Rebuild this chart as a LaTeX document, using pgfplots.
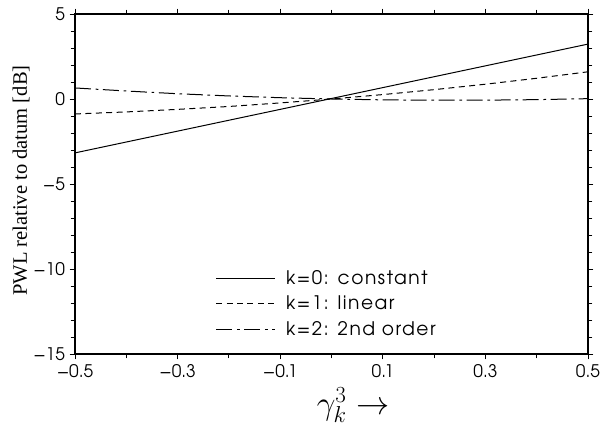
\documentclass[border=0pt]{standalone}
\usepackage{pgfplots}
\pgfplotsset{compat=1.18}
\usepackage{fontspec}
\newfontfamily\tickfont{TeX Gyre Adventor}
\newfontfamily\legfont{TeX Gyre Adventor}[LetterSpace=8]
\newfontfamily\seriffont{Liberation Serif}
\pgfplotsset{mylegend/.style={legend image code/.code={\draw[##1] (0pt,0pt) -- (44pt,0pt);}}}
\begin{document}
\begin{tikzpicture}
\begin{axis}[
  scale only axis, width=384.75pt, height=255pt,
  xmin=-0.5, xmax=0.5, ymin=-15, ymax=5,
  axis line style={line width=0.9pt},
  tick style={line width=0.7pt, black},
  tick align=outside,
  xtick pos=both, ytick pos=both,
  xtick={-0.5,-0.3,-0.1,0.1,0.3,0.5},
  xticklabels={−0.5,−0.3,−0.1,0.1,0.3,0.5},
  minor xtick={-0.4,-0.2,0,0.2,0.4},
  ytick={-15,-10,-5,0,5},
  yticklabels={−15,−10,−5,0,5},
  minor ytick={-14,-13,-12,-11,-9,-8,-7,-6,-4,-3,-2,-1,1,2,3,4},
  major tick length=4pt, minor tick length=3.2pt,
  ticklabel style={font=\tickfont\fontsize{13}{15}\selectfont},
  ylabel={PWL relative to datum [dB]},
  ylabel style={font=\seriffont\fontsize{15.4}{18}\selectfont, at={(axis description cs:-0.105,0.51)}, anchor=center, rotate=0},
  xlabel={$\gamma_k^3\rightarrow$},
  xlabel style={font=\fontsize{24}{28}\selectfont, at={(axis description cs:0.542,-0.15)}, anchor=center},
  legend cell align=left,
  legend style={draw=none, fill=none, at={(axis description cs:0.266,0.263)}, anchor=north west,
    font=\legfont\fontsize{14}{16}\selectfont, row sep=3.2pt},
]
\addplot[black, line width=0.75pt, mylegend]
  coordinates {(-0.5,-3.17) (0.5,3.23)};
\addlegendentry{\hspace*{6pt}k=0: constant}
\addplot[black, line width=0.75pt, dash pattern=on 4.5pt off 3.3pt, mylegend]
  coordinates {
(-0.5,-0.88) (-0.4,-0.76) (-0.3,-0.61) (-0.2,-0.44) (-0.1,-0.23) (0,0)
(0.1,0.26) (0.2,0.55) (0.3,0.87) (0.4,1.22) (0.5,1.6)};
\addlegendentry{\hspace*{6pt}k=1: linear}
\addplot[black, line width=0.75pt, dash pattern=on 12pt off 3.5pt on 2pt off 3.5pt, mylegend]
  coordinates {
(-0.5,0.65) (-0.4,0.47) (-0.3,0.31) (-0.2,0.18) (-0.1,0.076) (0,0)
(0.1,-0.05) (0.2,-0.072) (0.3,-0.068) (0.4,-0.038) (0.5,0.02)};
\addlegendentry{\hspace*{6pt}k=2: 2nd order}
\coordinate (sw) at (rel axis cs:0,0);
\coordinate (ne) at (rel axis cs:1,1);
\end{axis}
\pgfresetboundingbox
\path[use as bounding box] ([xshift=-56.25pt,yshift=-56.25pt]sw) rectangle ([xshift=9.75pt,yshift=10.5pt]ne);
\end{tikzpicture}
\end{document}
